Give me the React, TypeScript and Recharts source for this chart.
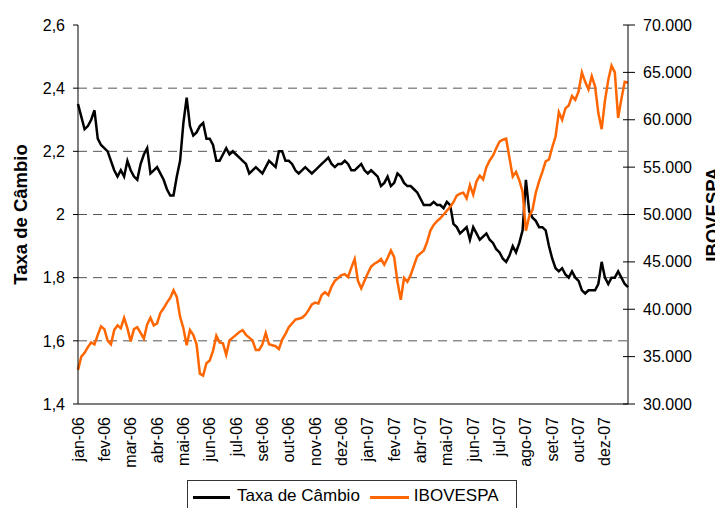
import React from 'react';
import { LineChart, Line, XAxis, YAxis, ReferenceLine } from 'recharts';

const FONT = '"Liberation Sans", Arial, sans-serif';

const monthLabels = [
  'jan-06', 'fev-06', 'mar-06', 'abr-06', 'mai-06', 'jun-06', 'jul-06', 'set-06',
  'out-06', 'nov-06', 'dez-06', 'jan-07', 'fev-07', 'abr-07', 'mai-07', 'jun-07',
  'jul-07', 'ago-07', 'set-07', 'out-07', 'dez-07',
];

const seriesNames = ['Taxa de Câmbio', 'IBOVESPA'];

// Taxa de Câmbio (left axis), eight samples per label interval
const cambio = [
  2.35, 2.31, 2.27, 2.28, 2.30, 2.33, 2.24, 2.22,
  2.21, 2.20, 2.17, 2.14, 2.12, 2.14, 2.12, 2.17,
  2.14, 2.12, 2.11, 2.16, 2.19, 2.21, 2.13, 2.14,
  2.15, 2.13, 2.11, 2.08, 2.06, 2.06, 2.12, 2.17,
  2.29, 2.37, 2.28, 2.25, 2.26, 2.28, 2.29, 2.24,
  2.24, 2.22, 2.17, 2.17, 2.19, 2.21, 2.19, 2.20,
  2.19, 2.18, 2.17, 2.16, 2.13, 2.14, 2.15, 2.14,
  2.13, 2.15, 2.17, 2.16, 2.15, 2.20, 2.20, 2.17,
  2.17, 2.16, 2.14, 2.13, 2.14, 2.15, 2.14, 2.13,
  2.14, 2.15, 2.16, 2.17, 2.18, 2.16, 2.15, 2.16,
  2.16, 2.17, 2.16, 2.14, 2.14, 2.15, 2.16, 2.14,
  2.13, 2.14, 2.13, 2.12, 2.09, 2.10, 2.12, 2.09,
  2.10, 2.13, 2.12, 2.10, 2.09, 2.09, 2.08, 2.07,
  2.05, 2.03, 2.03, 2.03, 2.04, 2.03, 2.03, 2.02,
  2.04, 2.03, 1.97, 1.96, 1.94, 1.95, 1.96, 1.92,
  1.96, 1.94, 1.92, 1.93, 1.94, 1.92, 1.91, 1.89,
  1.88, 1.86, 1.85, 1.87, 1.90, 1.88, 1.91, 1.95,
  2.11, 2.01, 1.99, 1.98, 1.96, 1.96, 1.95, 1.90,
  1.86, 1.83, 1.82, 1.83, 1.81, 1.80, 1.82, 1.80,
  1.79, 1.76, 1.75, 1.76, 1.76, 1.76, 1.78, 1.85,
  1.80, 1.78, 1.80, 1.80, 1.82, 1.80, 1.78, 1.77,
];

// IBOVESPA (right axis)
const ibovespa = [
  33600, 35000, 35400, 36000, 36500, 36300, 37300, 38200,
  37900, 36700, 36300, 37800, 38300, 38000, 39100, 38000,
  36600, 37900, 38100, 37500, 36900, 38400, 39100, 38300,
  38500, 39600, 40100, 40700, 41200, 42000, 41300, 39200,
  38000, 36200, 37800, 37300, 36300, 33200, 33000, 34300,
  34600, 35600, 37200, 36500, 36400, 35200, 36700, 37000,
  37300, 37600, 37800, 37300, 37000, 36700, 35700, 35700,
  36300, 37500, 36300, 36200, 36100, 35800, 36800, 37400,
  38100, 38500, 38900, 39000, 39100, 39400, 39900, 40500,
  40700, 40600, 41500, 41800, 41500, 42400, 43000, 43300,
  43600, 43700, 43400, 44400, 45300, 43000, 42200, 43000,
  43800, 44500, 44800, 45000, 45300, 44700, 45400, 46200,
  45500, 42900, 41000, 43300, 42900, 43600, 44600, 45600,
  45900, 46200, 47100, 48300, 48900, 49300, 49600, 50000,
  50400, 50800, 51300, 52000, 52200, 52300, 51700, 53100,
  52100, 53500, 54100, 53700, 55000, 55700, 56200, 57000,
  57700, 57900, 58000, 56000, 54000, 54500, 53600, 52400,
  48300, 49800, 50500, 52300, 53500, 54500, 55600, 55800,
  57100, 58200, 60800, 60000, 61200, 61500, 62500, 62100,
  63000, 65000, 64000, 63200, 64600, 63500, 60700, 59000,
  62000, 64200, 65700, 65000, 60200, 62200, 64000, 63900,
];

const leftTicks = [1.4, 1.6, 1.8, 2.0, 2.2, 2.4, 2.6];
const rightTicks = [30000, 35000, 40000, 45000, 50000, 55000, 60000, 65000, 70000];
const gridValues = [1.6, 1.8, 2.0, 2.2, 2.4];

const POINTS_PER_LABEL = 8;

const data = cambio.map((c, i) => ({ i, cambio: c, ibovespa: ibovespa[i] }));
const xTicks = monthLabels.map((_, k) => k * POINTS_PER_LABEL);

const fmtLeft = (v: number) => String(Math.round(v * 10) / 10).replace('.', ',');
const fmtRight = (v: number) => `${Math.floor(v / 1000)}.${String(v % 1000).padStart(3, '0')}`;

const XTick = (props: any) => {
  const { x, y, payload } = props;
  return (
    <text
      x={x}
      y={y}
      transform={`rotate(-90, ${x}, ${y})`}
      textAnchor="end"
      dominantBaseline="central"
      fontSize={16}
      fontFamily={FONT}
      fill="#000"
    >
      {monthLabels[Math.round(payload.value / POINTS_PER_LABEL)]}
    </text>
  );
};

const RIGHT_TICK_SIZE = 7;
const RIGHT_TICK_MARGIN = 8;

const RightTick = (props: any) => {
  const { x, y, payload } = props;
  const ax = x - RIGHT_TICK_SIZE - RIGHT_TICK_MARGIN;
  return (
    <g>
      <line x1={ax - 5} x2={ax + RIGHT_TICK_SIZE} y1={y} y2={y} stroke="#000" strokeWidth={1} />
      <text x={x} y={y} dominantBaseline="central" textAnchor="start" fontSize={16} fontFamily={FONT} fill="#000">
        {fmtRight(payload.value)}
      </text>
    </g>
  );
};

const AxisTitle = (props: any) => {
  const { viewBox, text, side } = props;
  if (!viewBox) return null;
  const cx = side === 'left' ? viewBox.x + 12 : viewBox.x + 84;
  const cy = viewBox.y + viewBox.height / 2;
  return (
    <text
      x={cx}
      y={cy}
      transform={`rotate(-90, ${cx}, ${cy})`}
      textAnchor="middle"
      dominantBaseline="central"
      fontSize={18.5}
      fontWeight="bold"
      fontFamily={FONT}
      fill="#000"
    >
      {text}
    </text>
  );
};

const legendColors = ['#000000', '#ff6600'];

export default function App() {
  return (
    <div style={{ position: 'relative', width: 715, height: 500, overflow: 'hidden' }}>
      <LineChart width={715} height={492} data={data} margin={{ top: 17, right: 0, bottom: 0, left: 0 }}>
        <XAxis
          dataKey="i"
          type="number"
          domain={[0, cambio.length - 1]}
          ticks={xTicks}
          interval={0}
          tickLine={false}
          tickSize={0}
          tickMargin={13}
          height={96}
          axisLine={{ stroke: '#000', strokeWidth: 1 }}
          tick={<XTick />}
          xAxisId="x"
        />
        <YAxis
          yAxisId="left"
          domain={[1.4, 2.6]}
          ticks={leftTicks}
          interval={0}
          width={70}
          tickSize={5}
          tickMargin={8}
          tickFormatter={fmtLeft}
          axisLine={{ stroke: '#000', strokeWidth: 1 }}
          tickLine={{ stroke: '#000', strokeWidth: 1 }}
          tick={{ fill: '#000', fontSize: 16, fontFamily: FONT }}
          label={<AxisTitle text={seriesNames[0]} side="left" />}
        />
        <YAxis
          yAxisId="right"
          orientation="right"
          domain={[30000, 70000]}
          ticks={rightTicks}
          interval={0}
          width={95}
          tickSize={RIGHT_TICK_SIZE}
          tickMargin={RIGHT_TICK_MARGIN}
          tickLine={false}
          axisLine={{ stroke: '#000', strokeWidth: 1 }}
          tick={<RightTick />}
          label={<AxisTitle text={seriesNames[1]} side="right" />}
        />
        {gridValues.map((v) => (
          <ReferenceLine
            key={v}
            y={v}
            yAxisId="left"
            xAxisId="x"
            stroke="#555"
            strokeWidth={1}
            strokeDasharray="9 6"
          />
        ))}
        <Line
          xAxisId="x"
          yAxisId="left"
          type="linear"
          dataKey="cambio"
          name={seriesNames[0]}
          stroke={legendColors[0]}
          strokeWidth={2.5}
          dot={false}
          activeDot={false}
          isAnimationActive={false}
        />
        <Line
          xAxisId="x"
          yAxisId="right"
          type="linear"
          dataKey="ibovespa"
          name={seriesNames[1]}
          stroke={legendColors[1]}
          strokeWidth={2.5}
          dot={false}
          activeDot={false}
          isAnimationActive={false}
        />
      </LineChart>
      <div
        style={{
          position: 'absolute',
          left: 179,
          top: 472,
          width: 330,
          height: 28,
          border: '1px solid #333',
          borderBottom: 'none',
          boxSizing: 'border-box',
          fontFamily: FONT,
          fontSize: 17,
          color: '#000',
        }}
      >
        <div style={{ display: 'flex', alignItems: 'center', height: 20, marginTop: 5, paddingLeft: 5 }}>
          <div style={{ width: 37, height: 3, background: legendColors[0], marginTop: 3 }} />
          <span style={{ marginLeft: 7, lineHeight: '20px', whiteSpace: 'nowrap' }}>{seriesNames[0]}</span>
          <div style={{ width: 39, height: 3, background: legendColors[1], marginLeft: 10, marginTop: 3 }} />
          <span style={{ marginLeft: 5, lineHeight: '20px', whiteSpace: 'nowrap' }}>{seriesNames[1]}</span>
        </div>
      </div>
    </div>
  );
}
